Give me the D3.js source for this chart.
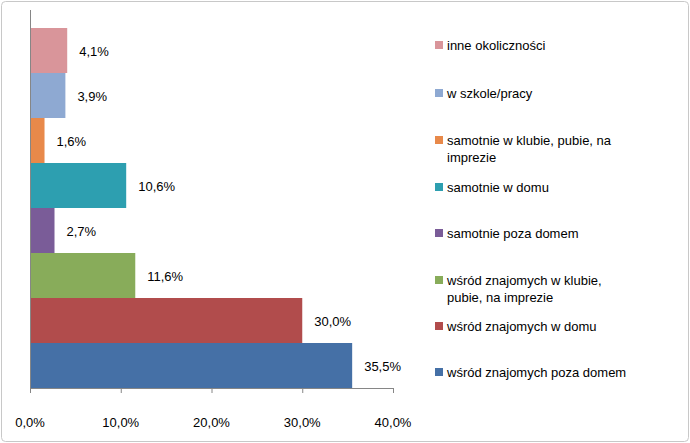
<!DOCTYPE html>
<html><head><meta charset="utf-8">
<script src="https://cdn.jsdelivr.net/npm/d3@7"></script>
<style>body{margin:0;background:#fff}text{font-family:"Liberation Sans",Arial,sans-serif;font-size:13px;fill:#000}</style>
</head><body><svg id="c" width="690" height="443"></svg>
<script>
const categories=["inne okoliczności","w szkole/pracy","samotnie w klubie, pubie, na imprezie","samotnie w domu","samotnie poza domem","wśród znajomych w klubie, pubie, na imprezie","wśród znajomych w domu","wśród znajomych poza domem"];
const legendLines=[["inne okoliczności"],["w szkole/pracy"],["samotnie w klubie, pubie, na","imprezie"],["samotnie w domu"],["samotnie poza domem"],["wśród znajomych w klubie,","pubie, na imprezie"],["wśród znajomych w domu"],["wśród znajomych poza domem"]];
const values=[4.1,3.9,1.6,10.6,2.7,11.6,30.0,35.5];
const colors=["#d9959a","#8ea9d2","#e8894a","#2d9fb0","#7a5c98","#88ac5a","#b14c4c","#4570a6"];
const ticks=[0,10,20,30,40];
const fmt=v=>v.toFixed(1).replace(".",",")+"%";
const svg=d3.select("#c");
svg.append("rect").attr("x",1.5).attr("y",1.5).attr("width",687).attr("height",440).attr("rx",4).attr("fill","#fff").attr("stroke","#c8c8c8");
const x=d3.scaleLinear().domain([0,40]).range([30,393]);
const y=d3.scaleBand().domain(categories).range([28,388]).padding(0);
svg.selectAll(".b").data(categories).join("rect").attr("x",x(0)).attr("y",d=>y(d)).attr("height",y.bandwidth()).attr("width",(d,i)=>x(values[i])-x(0)).attr("fill",(d,i)=>colors[i]);
svg.selectAll(".v").data(categories).join("text").attr("x",(d,i)=>x(values[i])+12).attr("y",d=>y(d)+y.bandwidth()/2+5).text((d,i)=>fmt(values[i]));
svg.append("line").attr("x1",30.5).attr("x2",30.5).attr("y1",10).attr("y2",388).attr("stroke","#868686");
svg.append("line").attr("x1",30).attr("x2",393).attr("y1",388.5).attr("y2",388.5).attr("stroke","#868686");
ticks.forEach(t=>{
 svg.append("line").attr("x1",x(t)+0.5).attr("x2",x(t)+0.5).attr("y1",388).attr("y2",393).attr("stroke","#868686");
 svg.append("text").attr("x",x(t)).attr("y",427).attr("text-anchor","middle").text(fmt(t));
});
const ly=[45,93,140,187,233,280,326,372];
legendLines.forEach((ls,i)=>{
 svg.append("rect").attr("x",435).attr("y",ly[i]-4).attr("width",8).attr("height",8).attr("fill",colors[i]);
 ls.forEach((l,j)=>svg.append("text").attr("x",447).attr("y",ly[i]+5+j*17).text(l));
});
</script></body></html>
